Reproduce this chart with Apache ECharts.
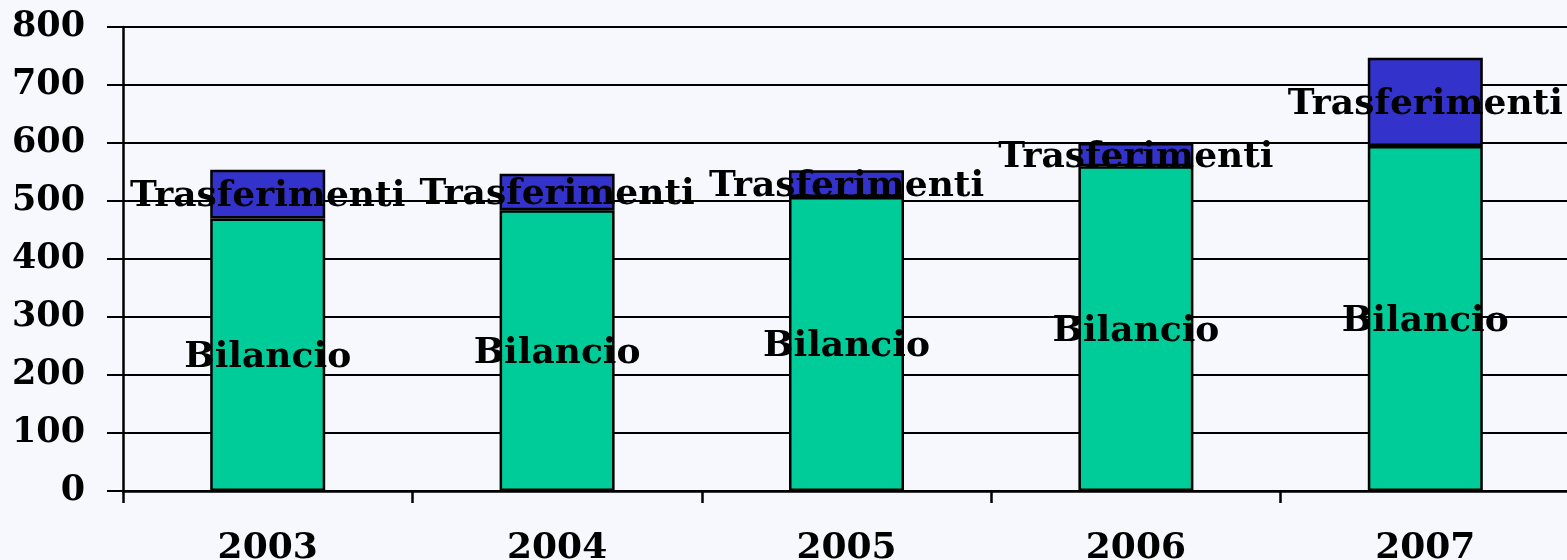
<!DOCTYPE html>
<html>
<head>
<meta charset="utf-8">
<script src="https://cdn.jsdelivr.net/npm/echarts@6/dist/echarts.min.js"></script>
<style>
  html, body { margin: 0; padding: 0; background: #f7f8fe; }
</style>
</head>
<body>

<div id="main" style="width: 1567px;height:560px;"></div>

<script type="text/javascript">
    // dati
    var anni = ['2003', '2004', '2005', '2006', '2007'];
    var bilancio = [470, 484, 507, 560, 595];
    var trasferimenti = [84, 63, 46, 40, 152];

    var font = '"DejaVu Serif", "Liberation Serif", serif';

    var myChart = echarts.init(document.getElementById('main'));

    var etichetta = {
        show: true,
        position: 'inside',
        offset: [0, 3],
        formatter: '{a}',
        color: '#000',
        fontFamily: font,
        fontWeight: 'bold',
        fontSize: 36,
        textBorderWidth: 0
    };

    var option = {
        backgroundColor: '#f7f8fe',
        animation: false,
        grid: {
            left: 123,
            right: -3,
            top: 27,
            bottom: 69,
            containLabel: false,
            outerBoundsMode: 'none'
        },
        xAxis: {
            type: 'category',
            data: anni,
            axisLine: { lineStyle: { color: '#000', width: 2.5 } },
            axisTick: { show: true, length: 12, lineStyle: { color: '#000', width: 2.5 } },
            axisLabel: {
                margin: 40,
                color: '#000',
                fontFamily: font,
                fontWeight: 'bold',
                fontSize: 36
            }
        },
        yAxis: {
            type: 'value',
            min: 0,
            max: 800,
            interval: 100,
            axisLine: { show: true, lineStyle: { color: '#000', width: 2.5 } },
            axisTick: { show: true, length: 16, lineStyle: { color: '#000', width: 2 } },
            splitLine: { show: true, lineStyle: { color: '#000', width: 2 } },
            axisLabel: {
                margin: 38,
                color: '#000',
                fontFamily: font,
                fontWeight: 'bold',
                fontSize: 35
            }
        },
        series: [
            {
                name: 'Bilancio',
                type: 'bar',
                stack: 'tot',
                barWidth: 115,
                data: bilancio,
                itemStyle: { color: '#00cc99', borderColor: '#000', borderWidth: 2.5 },
                label: etichetta
            },
            {
                name: 'Trasferimenti',
                type: 'bar',
                stack: 'tot',
                barWidth: 115,
                data: trasferimenti,
                itemStyle: { color: '#3333cc', borderColor: '#000', borderWidth: 2.5 },
                label: etichetta
            }
        ]
    };

    myChart.setOption(option);
</script>

</body>
</html>
